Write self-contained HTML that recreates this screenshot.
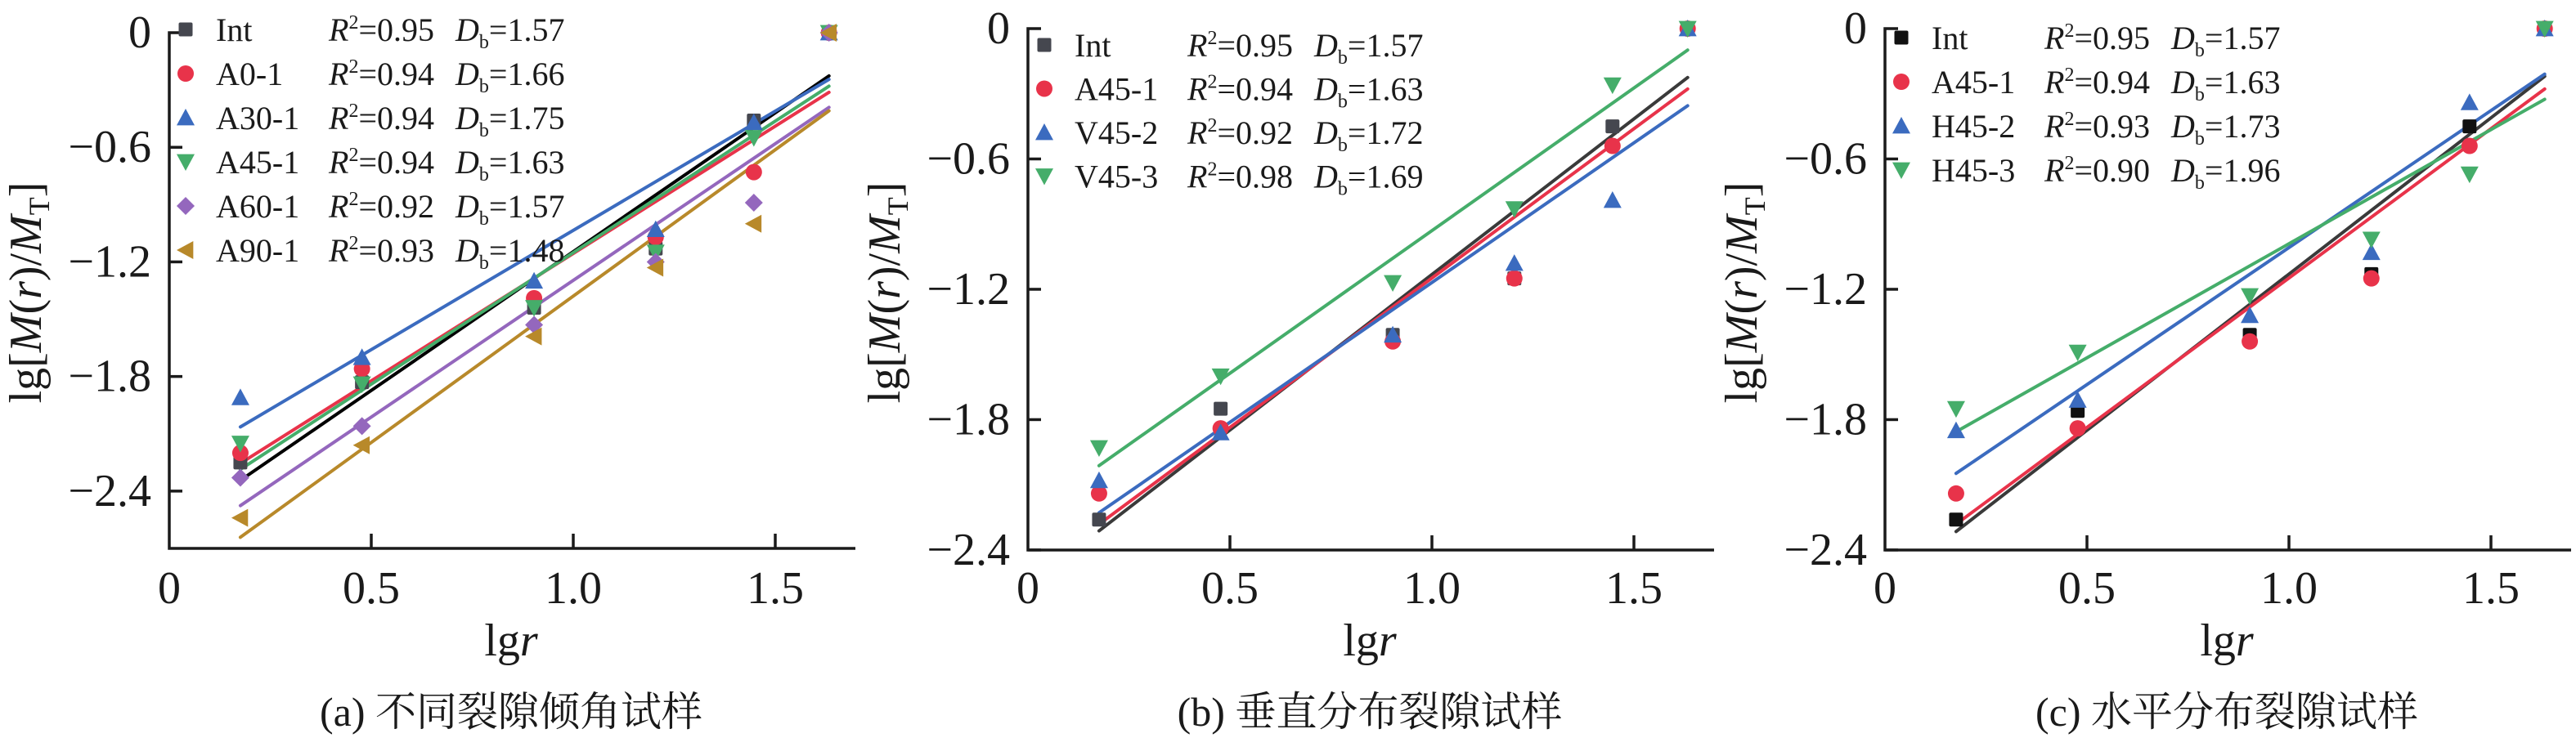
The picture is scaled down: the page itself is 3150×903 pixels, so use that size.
<!DOCTYPE html>
<html><head><meta charset="utf-8"><style>
html,body{margin:0;padding:0;background:#fff;}
svg{display:block;}
svg text{font-family:"Liberation Serif","Times New Roman",serif;}
svg text.cjk{font-family:"Liberation Serif","Noto Serif CJK SC","Noto Sans CJK SC",serif;}
</style></head><body>
<svg id="chart" width="3150" height="903" viewBox="0 0 3150 903" xmlns="http://www.w3.org/2000/svg"></svg>
<script>
const xData = [0.176, 0.477, 0.903, 1.204, 1.447, 1.633];
const xTicks = [0, 0.5, 1.0, 1.5];
const xTickLabels = ["0", "0.5", "1.0", "1.5"];
const yTicks = [0, -0.6, -1.2, -1.8, -2.4];
const yTickLabels = ["0", "\u22120.6", "\u22121.2", "\u22121.8", "\u22122.4"];
const captionA = "(a) 不同裂隙倾角试样";
const captionB = "(b) 垂直分布裂隙试样";
const captionC = "(c) 水平分布裂隙试样";

const namesA = ["Int", "A0-1", "A30-1", "A45-1", "A60-1", "A90-1"];
const r2A = ["0.95", "0.94", "0.94", "0.94", "0.92", "0.93"];
const dbA = ["1.57", "1.66", "1.75", "1.63", "1.57", "1.48"];
const a_Int = [-2.25, -1.83, -1.44, -1.13, -0.46, 0];
const a_A0 = [-2.20, -1.76, -1.39, -1.07, -0.73, 0];
const a_A30 = [-1.91, -1.70, -1.30, -1.03, -0.47, 0];
const a_A45 = [-2.15, -1.84, -1.44, -1.15, -0.55, 0];
const a_A60 = [-2.33, -2.06, -1.53, -1.20, -0.89, 0];
const a_A90 = [-2.54, -2.16, -1.59, -1.23, -1.00, 0];

const namesB = ["Int", "A45-1", "V45-2", "V45-3"];
const r2B = ["0.95", "0.94", "0.92", "0.98"];
const dbB = ["1.57", "1.63", "1.72", "1.69"];
const b_Int = [-2.26, -1.75, -1.41, -1.15, -0.45, 0];
const b_A45 = [-2.14, -1.84, -1.44, -1.15, -0.54, 0];
const b_V452 = [-2.08, -1.86, -1.41, -1.08, -0.79, 0];
const b_V453 = [-1.93, -1.60, -1.17, -0.83, -0.26, 0];

const namesC = ["Int", "A45-1", "H45-2", "H45-3"];
const r2C = ["0.95", "0.94", "0.93", "0.90"];
const dbC = ["1.57", "1.63", "1.73", "1.96"];
const c_Int = [-2.26, -1.76, -1.41, -1.13, -0.45, 0];
const c_A45 = [-2.14, -1.84, -1.44, -1.15, -0.54, 0];
const c_H452 = [-1.85, -1.71, -1.32, -1.03, -0.34, 0];
const c_H453 = [-1.75, -1.49, -1.23, -0.97, -0.67, 0];

const NS = "http://www.w3.org/2000/svg";
const svg = document.getElementById('chart');
function mk(tag, attrs, parent){
  const e = document.createElementNS(NS, tag);
  for (const k in attrs) e.setAttribute(k, attrs[k]);
  if (tag === 'text') e.setAttribute('fill', '#1a1a1a');
  (parent || svg).appendChild(e);
  return e;
}
function marker(g, shape, cx, cy, color){
  let e;
  const s = 11;
  if (shape === 'square') e = mk('rect', {x:cx-8.5, y:cy-8.5, width:17, height:17, rx:2, fill:color}, g);
  else if (shape === 'circle') e = mk('circle', {cx:cx, cy:cy, r:10, fill:color}, g);
  else if (shape === 'up') e = mk('polygon', {points:`${cx},${cy-s} ${cx+s},${cy+s*0.85} ${cx-s},${cy+s*0.85}`, fill:color}, g);
  else if (shape === 'down') e = mk('polygon', {points:`${cx},${cy+s} ${cx+s},${cy-s*0.85} ${cx-s},${cy-s*0.85}`, fill:color}, g);
  else if (shape === 'diamond') e = mk('polygon', {points:`${cx},${cy-s} ${cx+s},${cy} ${cx},${cy+s} ${cx-s},${cy}`, fill:color}, g);
  else e = mk('polygon', {points:`${cx-s},${cy} ${cx+s*0.85},${cy-s} ${cx+s*0.85},${cy+s}`, fill:color}, g);
  return e;
}
function fit(xs, ys){
  const n = xs.length;
  const mx = xs.reduce((a,b)=>a+b,0)/n, my = ys.reduce((a,b)=>a+b,0)/n;
  let sxy=0, sxx=0;
  for (let i=0;i<n;i++){ sxy += (xs[i]-mx)*(ys[i]-my); sxx += (xs[i]-mx)*(xs[i]-mx); }
  const k = sxy/sxx; return {k:k, b:my-k*mx};
}

function panel(cfg){
  const g = mk('g', {});
  
  
  const X = v => cfg.x0 + v*494;
  const Y = v => cfg.y0 - v*cfg.yu;
  cfg.series.forEach((s) => {
    const f = fit(xData, s.data);
    const x1 = xData[0], x2 = xData[xData.length-1];
    const l = mk('line', {x1:X(x1), y1:Y(f.k*x1+f.b), x2:X(x2), y2:Y(f.k*x2+f.b), stroke:s.line||s.color, 'stroke-width':4, 'stroke-linecap':'round'}, g);
    
    
  });
  cfg.series.forEach((s) => {
    s.data.forEach((v, i) => {
      const m = marker(g, s.shape, X(xData[i]), Y(v), s.color);
      
      
    });
  });
  const yTop = Y(0), yBot = cfg.axisY, xR = cfg.x0 + 839;
  const ax = mk('path', {d:`M${cfg.x0+16},${yTop} H${cfg.x0} V${yBot} H${xR}`, fill:'none', stroke:'#1a1a1a', 'stroke-width':3.5}, g);
  
  
  yTicks.forEach((t, i) => {
    if (i>0) mk('line', {x1:cfg.x0, y1:Y(t), x2:cfg.x0+16, y2:Y(t), stroke:'#1a1a1a', 'stroke-width':3.5}, g);
    const tl = mk('text', {x:cfg.x0-22, y:Y(t)+18, 'text-anchor':'end', 'font-size':56}, g);
    tl.textContent = yTickLabels[i];
    
    
  });
  xTicks.forEach((t, i) => {
    if (i>0) mk('line', {x1:X(t), y1:yBot, x2:X(t), y2:yBot-18, stroke:'#1a1a1a', 'stroke-width':3.5}, g);
    const tl = mk('text', {x:X(t), y:738, 'text-anchor':'middle', 'font-size':56}, g);
    tl.textContent = xTickLabels[i];
    
    
  });
  const xt = mk('text', {x:cfg.x0+418, y:802, 'text-anchor':'middle', 'font-size':56}, g);
  xt.innerHTML = 'lg<tspan font-style="italic">r</tspan>';
  
  
  const yt = mk('text', {x:0, y:0, 'text-anchor':'middle', 'font-size':56, transform:`translate(${cfg.x0-157},358) rotate(-90)`}, g);
  yt.innerHTML = 'lg[<tspan font-style="italic">M</tspan>(<tspan font-style="italic">r</tspan>)/<tspan font-style="italic">M</tspan><tspan font-size="36" dy="10">T</tspan><tspan dy="-10">]</tspan>';
  
  
  const cap = mk('text', {x:cfg.x0+418, y:888, 'text-anchor':'middle', 'font-size':50, 'class':'cjk'}, g);
  cap.textContent = cfg.caption;
  
  
  cfg.series.forEach((s, i) => {
    const ly = cfg.legY + i*cfg.legDy;
    const lg = mk('g', {}, g);
    
    
    marker(lg, s.shape, cfg.x0+20, ly, s.color);
    const t1 = mk('text', {x:cfg.x0+57, y:ly+14, 'font-size':40}, lg);
    t1.textContent = s.name;
    const t2 = mk('text', {x:cfg.x0+195, y:ly+14, 'font-size':40}, lg);
    t2.innerHTML = '<tspan font-style="italic">R</tspan><tspan font-size="24" dy="-15">2</tspan><tspan dy="15">=' + cfg.r2[i] + '</tspan>';
    const t3 = mk('text', {x:cfg.x0+350, y:ly+14, 'font-size':40}, lg);
    t3.innerHTML = '<tspan font-style="italic">D</tspan><tspan font-size="24" dy="9">b</tspan><tspan dy="-9">=' + cfg.db[i] + '</tspan>';
  });
}

const GRAY='#45474f', RED='#e8334a', BLUE='#3b6bbf', GREEN='#45ad6a', PURPLE='#9467bd', GOLD='#b8892a';
panel({id:'panel-a', x0:207, y0:40, yu:233.7, axisY:671, caption:captionA, legY:36, legDy:54, r2:r2A, db:dbA,
  series:[
    {name:namesA[0], data:a_Int, color:GRAY, line:'#000', shape:'square'},
    {name:namesA[1], data:a_A0, color:RED, shape:'circle'},
    {name:namesA[2], data:a_A30, color:BLUE, shape:'up'},
    {name:namesA[3], data:a_A45, color:GREEN, shape:'down'},
    {name:namesA[4], data:a_A60, color:PURPLE, shape:'diamond'},
    {name:namesA[5], data:a_A90, color:GOLD, shape:'left'}
  ]});
panel({id:'panel-b', x0:1257, y0:35, yu:265.8, axisY:673, caption:captionB, legY:55, legDy:53.5, r2:r2B, db:dbB,
  series:[
    {name:namesB[0], data:b_Int, color:GRAY, line:'#3a3a3a', shape:'square'},
    {name:namesB[1], data:b_A45, color:RED, shape:'circle'},
    {name:namesB[2], data:b_V452, color:BLUE, shape:'up'},
    {name:namesB[3], data:b_V453, color:GREEN, shape:'down'}
  ]});
panel({id:'panel-c', x0:2305, y0:35, yu:265.8, axisY:673, caption:captionC, legY:46, legDy:54, r2:r2C, db:dbC,
  series:[
    {name:namesC[0], data:c_Int, color:'#111', line:'#3a3a3a', shape:'square'},
    {name:namesC[1], data:c_A45, color:RED, shape:'circle'},
    {name:namesC[2], data:c_H452, color:BLUE, shape:'up'},
    {name:namesC[3], data:c_H453, color:GREEN, shape:'down'}
  ]});
</script>
</body></html>
